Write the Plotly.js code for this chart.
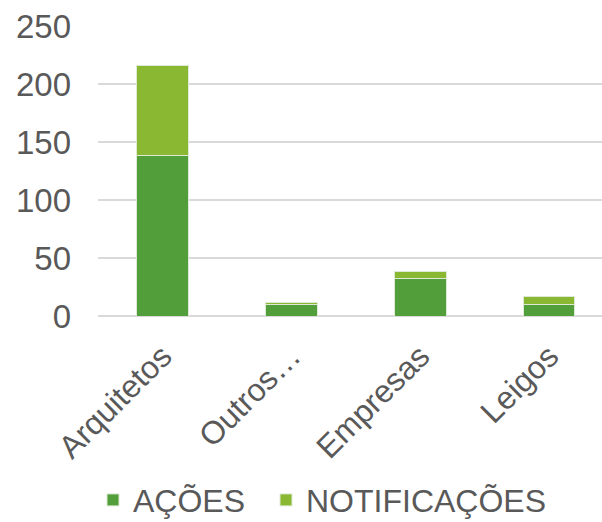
<!DOCTYPE html>
<html>
<head>
<meta charset="utf-8">
<script src="https://cdn.plot.ly/plotly-3.0.1.min.js"></script>
<style>
  html, body { margin: 0; padding: 0; background: #fff; }
  #chart { width: 602px; height: 522px; }
</style>
</head>
<body>
<div id="chart"></div>
<script>
// categories and series
const categories = ['Arquitetos', 'Outros…', 'Empresas', 'Leigos'];
const acoes = [138, 10, 32, 10];
const notificacoes = [78, 2, 6, 7];
const yTicks = [0, 50, 100, 150, 200, 250];

const textColor = '#595959';
const fontFamily = '"Liberation Sans", Arial, sans-serif';

const traces = [
  {
    x: categories,
    y: acoes,
    name: 'AÇÕES',
    type: 'bar',
    legend: 'legend',
    marker: { color: '#529E3A', line: { color: '#dfead6', width: 1 } }
  },
  {
    x: categories,
    y: notificacoes,
    name: 'NOTIFICAÇÕES',
    type: 'bar',
    legend: 'legend2',
    marker: { color: '#8AB833', line: { color: '#dfead6', width: 1 } }
  }
];

// one legend per series so the two entries can sit where the reference has them
function legendAt(xPx) {
  return {
    orientation: 'h',
    xref: 'container',
    yref: 'container',
    x: xPx / 602,
    xanchor: 'left',
    y: 0.042,
    yanchor: 'middle',
    bgcolor: 'rgba(0,0,0,0)',
    font: { size: 32, color: textColor },
    itemwidth: 30
  };
}

const layout = {
  width: 602,
  height: 522,
  barmode: 'stack',
  bargap: 0.6,
  margin: { l: 98, r: 0, t: 26, b: 206, autoexpand: false },
  paper_bgcolor: '#fff',
  plot_bgcolor: '#fff',
  font: { family: fontFamily, color: textColor, size: 33 },
  showlegend: true,
  legend: legendAt(93),
  legend2: legendAt(266),
  xaxis: {
    type: 'category',
    range: [-0.5, 3.41],
    tickangle: -45,
    showgrid: false,
    zeroline: false,
    showline: false,
    ticks: '',
    automargin: false,
    ticklabelstandoff: 14,
    tickfont: { size: 32, color: textColor }
  },
  yaxis: {
    range: [0, 250],
    tickvals: yTicks,
    ticks: '',
    showline: false,
    automargin: false,
    gridcolor: '#D9D9D9',
    gridwidth: 1.5,
    zeroline: true,
    zerolinecolor: '#D9D9D9',
    zerolinewidth: 1.5,
    tickfont: { size: 33, color: textColor },
    ticklabelstandoff: 26
  }
};

Plotly.newPlot('chart', traces, layout, { staticPlot: true, displayModeBar: false });
</script>
</body>
</html>
